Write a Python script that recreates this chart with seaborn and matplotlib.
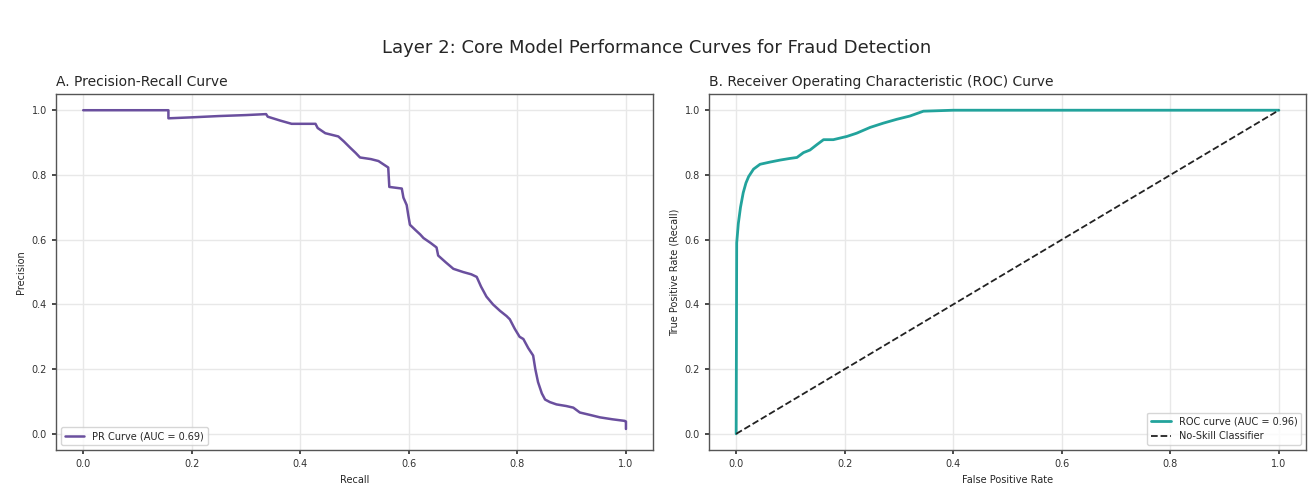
import numpy as np
import pandas as pd
import matplotlib
matplotlib.use("Agg")
import matplotlib.pyplot as plt
import seaborn as sns

# Precision-Recall curve
pr_recall = [0.0, 0.157, 0.157, 0.20, 0.25, 0.30, 0.337, 0.34, 0.363, 0.384,
             0.428, 0.432, 0.446, 0.470, 0.480, 0.492, 0.502, 0.510, 0.530, 0.544,
             0.562, 0.564, 0.587, 0.590, 0.596, 0.599, 0.602, 0.612, 0.621, 0.627,
             0.640, 0.651, 0.654, 0.668, 0.682, 0.700, 0.715, 0.725, 0.733, 0.743,
             0.755, 0.768, 0.780, 0.786, 0.795, 0.804, 0.811, 0.820, 0.829, 0.833,
             0.838, 0.845, 0.851, 0.860, 0.872, 0.890, 0.903, 0.915, 0.935, 0.952,
             0.975, 0.998, 1.0, 1.0]
pr_precision = [1.0, 1.0, 0.975, 0.978, 0.982, 0.985, 0.988, 0.980, 0.968, 0.958,
                0.958, 0.945, 0.929, 0.919, 0.904, 0.884, 0.868, 0.854, 0.849, 0.843,
                0.823, 0.763, 0.758, 0.730, 0.707, 0.675, 0.646, 0.630, 0.616, 0.605,
                0.590, 0.576, 0.551, 0.530, 0.510, 0.500, 0.493, 0.485, 0.455, 0.424,
                0.400, 0.380, 0.364, 0.354, 0.325, 0.300, 0.293, 0.265, 0.242, 0.200,
                0.160, 0.125, 0.106, 0.098, 0.091, 0.086, 0.081, 0.066, 0.058, 0.051,
                0.045, 0.040, 0.038, 0.015]
pr_auc = 0.69

# ROC curve
roc_fpr = [0.0, 0.001, 0.004, 0.008, 0.013, 0.018, 0.023, 0.032, 0.044, 0.063,
           0.081, 0.099, 0.112, 0.124, 0.136, 0.149, 0.161, 0.179, 0.204, 0.222,
           0.247, 0.271, 0.296, 0.320, 0.345, 0.40, 1.0]
roc_tpr = [0.0, 0.59, 0.65, 0.70, 0.745, 0.775, 0.795, 0.818, 0.833, 0.840,
           0.846, 0.851, 0.854, 0.869, 0.877, 0.894, 0.909, 0.909, 0.919, 0.929,
           0.947, 0.960, 0.972, 0.982, 0.997, 1.0, 1.0]
roc_auc = 0.96

sns.set_theme(style="whitegrid", rc={
    "axes.edgecolor": "#555555",
    "axes.linewidth": 1.0,
    "grid.color": "#e8e8e8",
    "xtick.bottom": True,
    "ytick.left": True,
    "xtick.major.size": 3,
    "ytick.major.size": 3,
    "xtick.color": "#333333",
    "ytick.color": "#333333",
})
plt.rcParams['font.family'] = ['DejaVu Sans']

fig = plt.figure(figsize=(13.13, 4.86), dpi=100)
ax1 = fig.add_axes([0.0427, 0.074, 0.4547, 0.7325])
ax2 = fig.add_axes([0.540, 0.074, 0.4547, 0.7325])

# A. Precision-Recall
sns.lineplot(x=pr_recall, y=pr_precision, ax=ax1, estimator=None, sort=False,
             color="#6a4f9e", linewidth=1.8,
             label=f"PR Curve (AUC = {pr_auc:.2f})")
ax1.set_title("A. Precision-Recall Curve", loc="left", fontsize=10)
ax1.set_xlabel("Recall", fontsize=7)
ax1.set_ylabel("Precision", fontsize=7)
ax1.legend(loc="lower left", fontsize=7)

# B. ROC
sns.lineplot(x=roc_fpr, y=roc_tpr, ax=ax2, estimator=None, sort=False,
             color="#22a39c", linewidth=2,
             label=f"ROC curve (AUC = {roc_auc:.2f})")
sns.lineplot(x=[0, 1], y=[0, 1], ax=ax2, estimator=None, color="#222222",
             linestyle="--", linewidth=1.3, label="No-Skill Classifier")
ax2.set_title("B. Receiver Operating Characteristic (ROC) Curve", loc="left", fontsize=10)
ax2.set_xlabel("False Positive Rate", fontsize=7)
ax2.set_ylabel("True Positive Rate (Recall)", fontsize=7)
ax2.legend(loc="lower right", fontsize=7)

for ax in (ax1, ax2):
    ax.set_xlim(-0.05, 1.05)
    ax.set_ylim(-0.05, 1.05)
    ax.set_xticks([0, 0.2, 0.4, 0.6, 0.8, 1.0])
    ax.set_yticks([0, 0.2, 0.4, 0.6, 0.8, 1.0])
    ax.tick_params(labelsize=7)

fig.suptitle("Layer 2: Core Model Performance Curves for Fraud Detection",
             fontsize=13, y=0.92)

plt.savefig("out.png", dpi=100)
